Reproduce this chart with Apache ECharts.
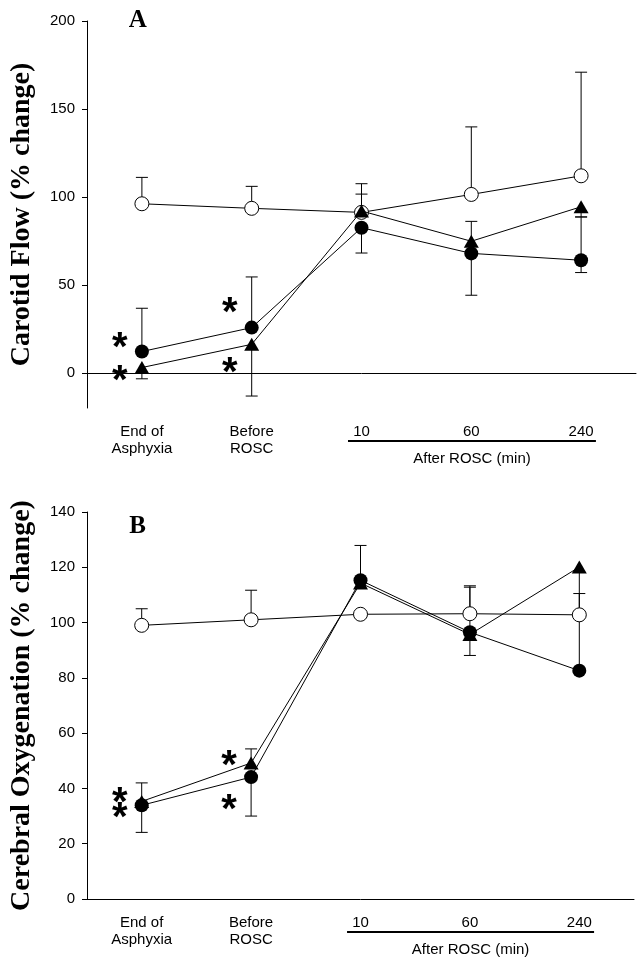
<!DOCTYPE html>
<html><head><meta charset="utf-8">
<script src="https://cdn.jsdelivr.net/npm/echarts@6/dist/echarts.min.js"></script>
<style>html,body{margin:0;padding:0;background:#fff}#c{width:640px;height:959px}</style>
</head><body><div id="c"></div>
<script>
// ---------- data ----------
const categories = ['End of\nAsphyxia', 'Before\nROSC', '10', '60', '240'];
const flowTicks = [0, 50, 100, 150, 200];
const oxyTicks = [0, 20, 40, 60, 80, 100, 120, 140];

// Panel A: Carotid flow (% change)
const flowOpen      = [96.1, 93.5, 91.2, 101.4, 112.0];
const flowOpenHigh  = [111.1, 106.0, 101.6, 139.8, 170.9];
const flowOpenLow   = [null, null, null, null, null];
const flowTri       = [3.0, 16.2, 92.0, 74.8, 94.4];
const flowTriHigh   = [null, null, 107.5, 86.1, null];
const flowTriLow    = [-3.4, -13.2, null, null, 88.6];
const flowDot       = [12.1, 25.7, 82.5, 67.9, 64.0];
const flowDotHigh   = [36.7, 54.5, null, null, 88.6];
const flowDotLow    = [null, null, 68.1, 44.1, 57.0];
const flowStars     = [[0, 17.8], [0, -1.1], [1, 37.7], [1, 3.6]];

// Panel B: Cerebral oxygenation (% change)
const oxyOpen      = [99.0, 101.0, 103.0, 103.2, 102.8];
const oxyOpenHigh  = [105.0, 111.7, null, 113.3, 110.5];
const oxyOpenLow   = [null, null, null, null, null];
const oxyTri       = [35.3, 49.2, 114.3, 95.7, 120.1];
const oxyTriHigh   = [42.0, 54.3, null, null, null];
const oxyTriLow    = [null, null, null, 88.1, 102.0];
const oxyDot       = [33.9, 44.1, 115.3, 96.5, 82.6];
const oxyDotHigh   = [null, null, 127.9, 112.8, 102.0];
const oxyDotLow    = [24.1, 30.0, null, null, null];
const oxyStars     = [[0, 36.9], [0, 31.5], [1, 50.4], [1, 34.5]];

// ---------- build ----------
const chart = echarts.init(document.getElementById('c'), null, {renderer: 'canvas'});
const SANS = 'Liberation Sans, Arial, sans-serif';
const SERIF = 'Liberation Serif, Times New Roman, serif';

function errData(vals, highs, lows) {
  const out = [];
  vals.forEach((v, i) => {
    if (highs[i] != null) out.push([i, v, highs[i]]);
    if (lows[i] != null) out.push([i, v, lows[i]]);
  });
  return out;
}
function errSeries(idx, data) {
  return {
    type: 'custom', xAxisIndex: idx, yAxisIndex: idx, z: 1, silent: true,
    data: data,
    renderItem: function (params, api) {
      const x = api.value(0);
      const p0 = api.coord([x, api.value(1)]);
      const p1 = api.coord([x, api.value(2)]);
      const st = {stroke: '#000', lineWidth: 1};
      return {type: 'group', children: [
        {type: 'line', shape: {x1: p0[0], y1: p0[1], x2: p1[0], y2: p1[1]}, style: st},
        {type: 'line', shape: {x1: p1[0] - 6, y1: p1[1], x2: p1[0] + 6, y2: p1[1]}, style: st}
      ]};
    }
  };
}
function lineSeries(idx, vals, kind, z) {
  const base = {
    type: 'line', xAxisIndex: idx, yAxisIndex: idx, z: z, silent: true,
    data: vals, showAllSymbol: true,
    lineStyle: {color: '#000', width: 1},
    emphasis: {disabled: true}
  };
  if (kind === 'open') {
    base.symbol = 'circle'; base.symbolSize = 14;
    base.itemStyle = {color: '#fff', borderColor: '#000', borderWidth: 1};
  } else if (kind === 'dot') {
    base.symbol = 'circle'; base.symbolSize = 14;
    base.itemStyle = {color: '#000', borderColor: '#000', borderWidth: 0};
  } else {
    base.symbol = 'triangle'; base.symbolSize = [15, 13];
    base.itemStyle = {color: '#000', borderColor: '#000', borderWidth: 0};
  }
  return base;
}
function starSeries(idx, pts) {
  return {
    type: 'scatter', xAxisIndex: idx, yAxisIndex: idx, z: 6, silent: true,
    data: pts, symbol: 'circle', symbolSize: 0.01, itemStyle: {color: '#000'},
    emphasis: {disabled: true},
    label: {show: true, formatter: '*', position: 'inside', offset: [-22, 7],
      fontFamily: SANS, fontWeight: 'bold', fontSize: 40, color: '#000',
      textBorderWidth: 0, textBorderColor: 'transparent', opacity: 1}
  };
}
function xAxis(idx) {
  return {
    type: 'category', gridIndex: idx, data: categories, boundaryGap: true,
    axisLine: {lineStyle: {color: '#000', width: 1}},
    axisTick: {alignWithLabel: true, length: 11, lineStyle: {color: '#000', width: 2}},
    axisLabel: {color: '#000', fontFamily: SANS, fontSize: 15, lineHeight: 17, margin: 15, interval: 0},
    splitLine: {show: false}
  };
}
function yAxis(idx, min, max, ticks, name, gap) {
  return {
    type: 'value', gridIndex: idx, min: min, max: max,
    name: name, nameLocation: 'middle', nameRotate: 90, nameGap: gap,
    nameTextStyle: {fontFamily: SERIF, fontWeight: 'bold', fontSize: 28, color: '#000'},
    axisLine: {show: true, lineStyle: {color: '#000', width: 1}},
    axisTick: {show: true, length: 5, customValues: ticks, lineStyle: {color: '#000', width: 1}},
    axisLabel: {color: '#000', fontFamily: SANS, fontSize: 15, margin: 12, customValues: ticks},
    splitLine: {show: false}
  };
}

chart.setOption({
  animation: false,
  backgroundColor: '#fff',
  grid: [
    {left: 82, top: 21, width: 554, height: 387},
    {left: 80, top: 512, width: 554, height: 387}
  ],
  xAxis: [xAxis(0), xAxis(1)],
  yAxis: [
    yAxis(0, -20, 200, flowTicks, 'Carotid Flow (% change)', 51),
    yAxis(1, 0, 140, oxyTicks, 'Cerebral Oxygenation (% change)', 51)
  ],
  series: [
    errSeries(0, errData(flowOpen, flowOpenHigh, flowOpenLow)),
    errSeries(0, errData(flowTri, flowTriHigh, flowTriLow)),
    errSeries(0, errData(flowDot, flowDotHigh, flowDotLow)),
    lineSeries(0, flowOpen, 'open', 2),
    lineSeries(0, flowTri, 'tri', 3),
    lineSeries(0, flowDot, 'dot', 4),
    starSeries(0, flowStars),
    errSeries(1, errData(oxyOpen, oxyOpenHigh, oxyOpenLow)),
    errSeries(1, errData(oxyTri, oxyTriHigh, oxyTriLow)),
    errSeries(1, errData(oxyDot, oxyDotHigh, oxyDotLow)),
    lineSeries(1, oxyOpen, 'open', 2),
    lineSeries(1, oxyTri, 'tri', 3),
    lineSeries(1, oxyDot, 'dot', 4),
    starSeries(1, oxyStars)
  ]
});

// annotations placed from the axes' own scales
const graphics = [];
const panelInfo = [{g: 0, min: -20, max: 200, letter: 'A'}, {g: 1, min: 0, max: 140, letter: 'B'}];
panelInfo.forEach(p => {
  const a2 = chart.convertToPixel({gridIndex: p.g}, [2, p.min]);
  const a3 = chart.convertToPixel({gridIndex: p.g}, [3, p.min]);
  const a4 = chart.convertToPixel({gridIndex: p.g}, [4, p.min]);
  const a0top = chart.convertToPixel({gridIndex: p.g}, [0, p.max]);
  const band = a3[0] - a2[0];
  const x1 = a2[0] - 0.123 * band, x2 = a4[0] + 0.135 * band;
  const yl = a2[1] + 33;
  graphics.push({type: 'line', shape: {x1: x1, y1: yl, x2: x2, y2: yl}, style: {stroke: '#000', lineWidth: 2}});
  graphics.push({type: 'text', x: (x1 + x2) / 2, y: a2[1] + 51,
    style: {text: 'After ROSC (min)', fontFamily: SANS, fontSize: 15, fill: '#000', align: 'center', verticalAlign: 'middle'}});
  graphics.push({type: 'text', x: a0top[0] - 4, y: a0top[1] + (p.g === 0 ? 0 : 15),
    style: {text: p.letter, fontFamily: SERIF, fontWeight: 'bold', fontSize: 25, fill: '#000', align: 'center', verticalAlign: 'middle'}});
});
chart.setOption({graphic: graphics});
</script>
</body></html>
